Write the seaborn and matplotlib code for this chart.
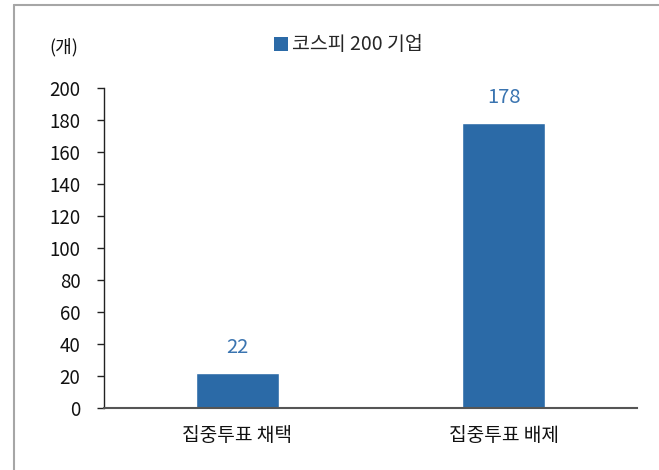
import matplotlib
matplotlib.use("Agg")
import matplotlib.pyplot as plt
import seaborn as sns
import pandas as pd
from matplotlib.lines import Line2D
from matplotlib.patches import Patch

categories = ["집중투표 채택", "집중투표 배제"]
values = [22, 178]
series_name = "코스피 200 기업"
unit_label = "(개)"
yticks = [0, 20, 40, 60, 80, 100, 120, 140, 160, 180, 200]

sns.set_theme(style="white")
plt.rcParams['font.family'] = ['Noto Sans CJK KR', 'DejaVu Sans']

BAR = "#2B6AA7"
W, H = 659, 470
fig = plt.figure(figsize=(W / 100, H / 100), dpi=100)
ax = fig.add_axes([104 / W, (H - 408) / H, (637 - 104) / W, (408 - 88) / H])

df = pd.DataFrame({"cat": categories, "val": values, "series": series_name})
sns.barplot(data=df, x="cat", y="val", hue="series", palette=[BAR],
            width=0.31, ax=ax, legend=False, saturation=1)

ax.set_xlim(-0.5, 1.5)
ax.set_ylim(0, 200)
ax.set_yticks(yticks)
ax.set_yticklabels([str(t) for t in yticks], fontsize=13.5, color="#111111")
ax.set_xticks([0, 1])
ax.set_xticklabels(categories, fontsize=13.8, color="#111111")
ax.set_xticks([-0.5, 0.5, 1.5], minor=True)
ax.tick_params(axis="x", which="major", length=0, pad=12)
ax.tick_params(axis="x", which="minor", length=5, width=1, color="#222222", direction="out")
ax.tick_params(axis="y", which="major", length=5, width=1, color="#222222",
               direction="out", left=True, pad=12)
ax.set_xlabel("")
ax.set_ylabel("")

for s in ["top", "right"]:
    ax.spines[s].set_visible(False)
ax.spines["left"].set_color("#222222")
ax.spines["left"].set_linewidth(1)
ax.spines["bottom"].set_color("#555555")
ax.spines["bottom"].set_linewidth(1.5)

for i, v in enumerate(values):
    ax.annotate(str(v), (i, v), xytext=(0, 11), textcoords="offset points",
                ha="center", va="bottom", fontsize=14.5, color="#3A74B0")

# legend
handle = Patch(facecolor=BAR, edgecolor="none")
fig.legend([handle], [series_name], loc="center left",
           bbox_to_anchor=(274 / W, 1 - 45 / H), frameon=False,
           fontsize=14, handlelength=0.7, handleheight=0.7,
           handletextpad=0.2, borderpad=0, borderaxespad=0)

fig.text(49 / W, 1 - 47 / H, unit_label, fontsize=13, color="#111111",
         ha="left", va="center")

# outer frame lines (top and left)
fig.add_artist(Line2D([14 / W, 14 / W], [0, 1 - 5 / H], transform=fig.transFigure,
                      color="#A6A6A6", linewidth=1.5))
fig.add_artist(Line2D([14 / W, 1], [1 - 5 / H, 1 - 5 / H], transform=fig.transFigure,
                      color="#A6A6A6", linewidth=1.5))

fig.savefig("out.png", dpi=100)
